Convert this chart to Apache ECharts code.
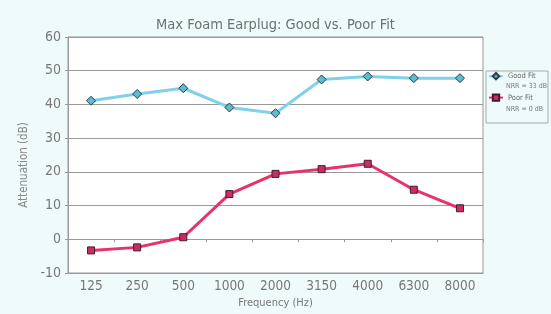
<!DOCTYPE html>
<html>
<head>
<meta charset="utf-8">
<script src="https://cdn.jsdelivr.net/npm/echarts@6/dist/echarts.min.js"></script>
<style>
  html, body { margin: 0; padding: 0; background: #effbfb; }
  #chart { width: 551px; height: 314px; }
</style>
</head>
<body>
<div id="chart"></div>
<script>
// 频率类别与两条曲线的数据
var frequencies = ['125', '250', '500', '1000', '2000', '3150', '4000', '6300', '8000'];
var goodFit = [41.1, 43.1, 44.8, 39.1, 37.4, 47.4, 48.3, 47.8, 47.8];
var poorFit = [-3.3, -2.4, 0.6, 13.4, 19.4, 20.8, 22.4, 14.7, 9.2];
var seriesNames = ['Good Fit', 'Poor Fit'];
var nrrText = ['NRR = 33 dB', 'NRR = 0 dB'];

var narrow = "'DejaVu Sans Condensed', 'Liberation Sans', sans-serif";
var myChart = echarts.init(document.getElementById('chart'));

var option = {
    backgroundColor: '#effbfb',
    textStyle: { fontFamily: narrow },
    title: {
        text: 'Max Foam Earplug: Good vs. Poor Fit',
        left: 'center',
        top: 13,
        textStyle: { fontFamily: narrow, fontSize: 14.5, fontWeight: 'normal', color: '#6a7272' }
    },
    legend: {
        orient: 'vertical',
        left: 488,
        top: 72,
        padding: 0,
        itemGap: 13,
        itemWidth: 14,
        itemHeight: 8,
        data: seriesNames,
        textStyle: { fontFamily: narrow, fontSize: 7.5, color: '#666' }
    },
    // 图例外框和 NRR 说明
    graphic: [{
        type: 'rect',
        shape: { x: 486, y: 71, width: 62, height: 52 },
        style: { fill: '#effbfb', stroke: '#aaa', lineWidth: 1 },
        z: -1
    }, {
        type: 'text',
        x: 506, y: 83,
        style: { text: nrrText[0], font: '7px ' + narrow, fill: '#777' }
    }, {
        type: 'text',
        x: 506, y: 106,
        style: { text: nrrText[1], font: '7px ' + narrow, fill: '#777' }
    }],
    grid: {
        left: 68,
        right: 68,
        top: 37,
        bottom: 41,
        show: true,
        backgroundColor: '#ffffff',
        borderColor: '#999',
        borderWidth: 1
    },
    xAxis: [{
        type: 'category',
        data: frequencies,
        position: 'bottom',
        axisLine: { onZero: false, lineStyle: { color: '#999' } },
        axisTick: { show: false },
        axisLabel: { fontFamily: narrow, fontSize: 13.5, color: '#777', margin: 6 },
        name: 'Frequency (Hz)',
        nameLocation: 'middle',
        nameGap: 25,
        nameTextStyle: { fontFamily: narrow, fontSize: 11, color: '#777' }
    }, {
        type: 'category',
        data: frequencies,
        position: 'bottom',
        axisLine: { onZero: true, lineStyle: { color: '#999' } },
        axisTick: { show: true, length: 3, lineStyle: { color: '#999' } },
        axisLabel: { show: false }
    }],
    yAxis: {
        type: 'value',
        min: -10,
        max: 60,
        interval: 10,
        axisLine: { show: true, lineStyle: { color: '#999' } },
        axisTick: { show: true, length: 3, lineStyle: { color: '#999' } },
        axisLabel: { fontFamily: narrow, fontSize: 14, color: '#777', margin: 7 },
        splitLine: { lineStyle: { color: '#999' } },
        name: 'Attenuation (dB)',
        nameLocation: 'middle',
        nameGap: 33,
        nameTextStyle: { fontFamily: narrow, fontSize: 11.5, color: '#888', padding: [0, 20, 0, 0] }
    },
    series: [{
        name: seriesNames[0],
        type: 'line',
        data: goodFit,
        symbol: 'diamond',
        symbolSize: 9,
        lineStyle: { color: '#80d0ea', width: 3 },
        itemStyle: { color: '#5dbccf', borderColor: '#2a3a4a', borderWidth: 1 }
    }, {
        name: seriesNames[1],
        type: 'line',
        data: poorFit,
        symbol: 'rect',
        symbolSize: 7,
        lineStyle: { color: '#e6336a', width: 3 },
        itemStyle: { color: '#d22a60', borderColor: '#3a2030', borderWidth: 1 }
    }]
};
myChart.setOption(option);
</script>
</body>
</html>
